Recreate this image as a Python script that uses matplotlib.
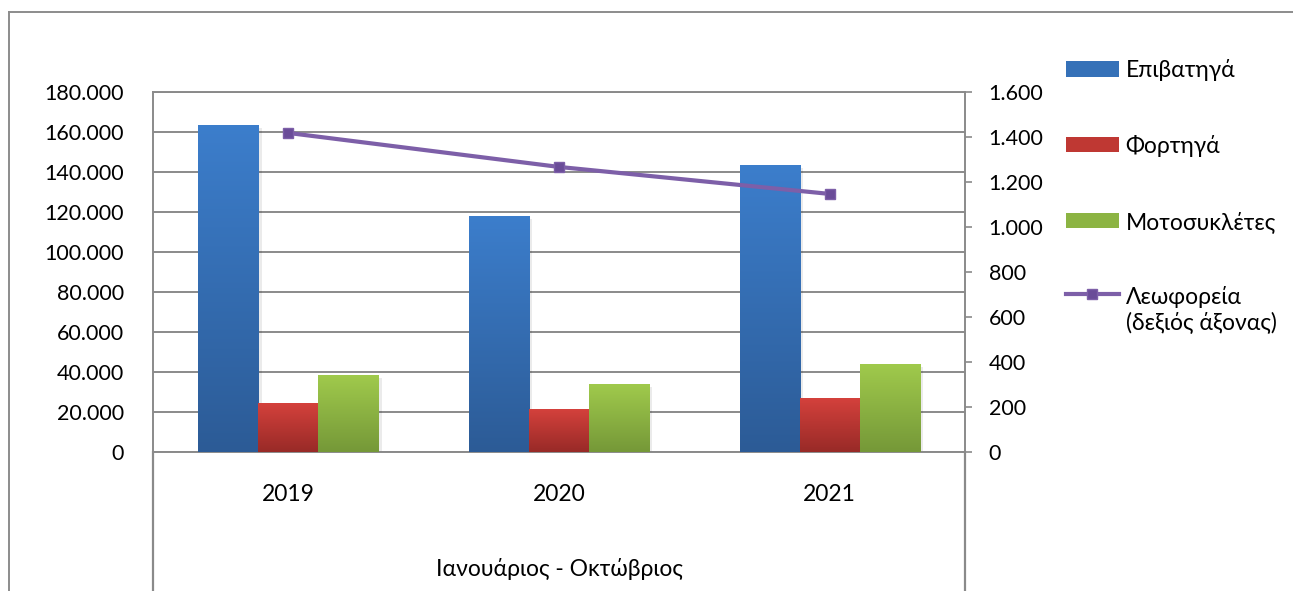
import numpy as np
import matplotlib
matplotlib.use("Agg")
import matplotlib.pyplot as plt
from matplotlib.lines import Line2D
from matplotlib.patches import Patch
from matplotlib.legend_handler import HandlerLine2D
from matplotlib.transforms import Affine2D
from matplotlib.colors import LinearSegmentedColormap
from matplotlib.ticker import FuncFormatter, MultipleLocator

plt.rcParams['font.family'] = ['Lato', 'Open Sans', 'DejaVu Sans']

# ---- data ----
years = ["2019", "2020", "2021"]
group_label = "Ιανουάριος - Οκτώβριος"
passenger = [163500, 118000, 143500]      # Επιβατηγά
trucks = [24500, 21500, 27000]            # Φορτηγά
motorcycles = [38500, 34000, 44000]       # Μοτοσυκλέτες
buses = [1418, 1267, 1147]                # Λεωφορεία (right axis)
series_names = ["Επιβατηγά", "Φορτηγά", "Μοτοσυκλέτες", "Λεωφορεία\n(δεξιός άξονας)"]

# ---- style ----
grad = {
    "blue": ("#3c7ecc", "#2c5b96"),
    "red": ("#d4413c", "#982a27"),
    "green": ("#a0ca4c", "#759838"),
}
line_color = "#7d5fa8"
marker_color = "#6a4c98"
grid_gray = "#8a8a8a"
FS = 15.5
FS_TXT = 16.5

W, H = 1293, 591
fig = plt.figure(figsize=(W / 100, H / 100), dpi=100)
ax = fig.add_axes([153 / W, 139 / H, 812 / W, 360 / H])

x = np.arange(len(years))
bw = 0.2217
offsets = [-bw, 0, bw]
datasets = [passenger, trucks, motorcycles]
keys = ["blue", "red", "green"]

ax.set_xlim(-0.5, 2.5)
ax.set_ylim(0, 180000)

for vals, off, key in zip(datasets, offsets, keys):
    top_c, bot_c = grad[key]
    bars = ax.bar(x + off, vals, bw, color=top_c, linewidth=0, zorder=3)
    cmap = LinearSegmentedColormap.from_list(key, [bot_c, top_c])
    for b in bars:
        bx, by = b.get_x(), b.get_y()
        bwid, bh = b.get_width(), b.get_height()
        # soft shadow
        ax.bar(bx + bwid / 2 + 0.012, bh, bwid, bottom=-1500, color="#000000",
               alpha=0.08, linewidth=0, zorder=2)
        im = ax.imshow(np.linspace(0, 1, 256).reshape(-1, 1), cmap=cmap,
                       origin="lower", aspect="auto",
                       extent=[bx, bx + bwid, by, by + bh], zorder=3.5)
        im.set_clip_path(b)

ax.set_xlim(-0.5, 2.5)
ax.set_ylim(0, 180000)

ax.yaxis.set_major_locator(MultipleLocator(20000))
ax.yaxis.set_major_formatter(FuncFormatter(lambda v, p: f"{int(v):,}".replace(",", ".")))
ax.grid(axis="y", color=grid_gray, linewidth=1.4, zorder=1)
ax.set_axisbelow(True)
ax.tick_params(axis="y", length=0, pad=21, labelsize=FS)
ax.set_xticks(x)
ax.set_xticklabels(years)
ax.tick_params(axis="x", length=0, pad=23, labelsize=FS_TXT)
ax.set_xlabel(group_label, fontsize=FS_TXT)
ax.xaxis.set_label_coords(0.5, -(558 - 452) / 360)

for s in ["left", "bottom", "top"]:
    ax.spines[s].set_color(grid_gray)
    ax.spines[s].set_linewidth(1.4)
ax.spines["right"].set_visible(False)

# extension lines of the category axis down to the bottom
for xa in (0, 1):
    ax.add_line(Line2D([xa, xa], [0, -139 / 360], transform=ax.transAxes,
                       color=grid_gray, linewidth=1.6, clip_on=False))

# right axis with line
ax2 = ax.twinx()
ax2.set_ylim(0, 1600)
ax2.yaxis.set_major_locator(MultipleLocator(200))
ax2.yaxis.set_major_formatter(FuncFormatter(lambda v, p: f"{int(v):,}".replace(",", ".")))
ax2.tick_params(axis="y", length=5, width=1.2, color=grid_gray, pad=12, labelsize=FS, direction="out")
for s in ["left", "bottom", "top"]:
    ax2.spines[s].set_visible(False)
ax2.spines["right"].set_color(grid_gray)
ax2.spines["right"].set_linewidth(1.4)
ax2.plot(x, buses, color=line_color, linewidth=3.0, marker="s", markersize=7,
         markerfacecolor=marker_color, markeredgecolor=line_color, zorder=5)

# outer chart border
fig.add_artist(Line2D([9 / W, 9 / W], [0, (H - 12) / H], transform=fig.transFigure,
                      color="#8c8c8c", linewidth=1.4))
fig.add_artist(Line2D([9 / W, 1], [(H - 12) / H, (H - 12) / H], transform=fig.transFigure,
                      color="#8c8c8c", linewidth=1.4))


# legend
class UpLine(HandlerLine2D):
    def __init__(self, shift, **kw):
        super().__init__(**kw)
        self.shift = shift

    def create_artists(self, legend, orig_handle, xdescent, ydescent, width, height,
                       fontsize, trans):
        arts = super().create_artists(legend, orig_handle, xdescent, ydescent, width,
                                      height, fontsize, trans)
        for a in arts:
            a.set_transform(a.get_transform() + Affine2D().translate(0, self.shift))
        return arts


handles = [Patch(facecolor="#3571b8"), Patch(facecolor="#bf3833"), Patch(facecolor="#8cb443"),
           Line2D([], [], color=line_color, linewidth=3.0, marker="s", markersize=7,
                  markerfacecolor=marker_color, markeredgecolor=line_color)]
leg = fig.legend(handles, series_names, loc="upper left",
                 bbox_to_anchor=(1066 / W, (H - 59) / H), frameon=False, fontsize=FS_TXT,
                 handlelength=2.3, handleheight=0.65, handletextpad=0.3,
                 labelspacing=2.35, borderpad=0, borderaxespad=0,
                 handler_map={handles[3]: UpLine(17)})

fig.savefig("out.png", dpi=100)
